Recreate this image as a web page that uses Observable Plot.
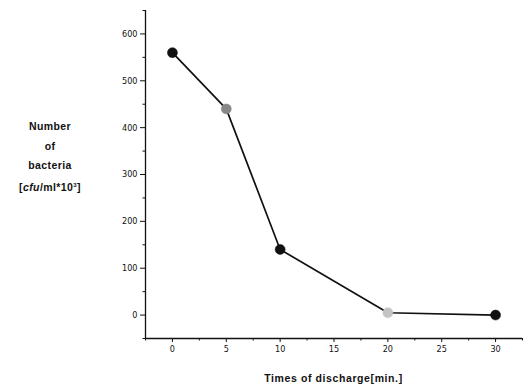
<!DOCTYPE html>
<html><head><meta charset="utf-8">
<script src="https://cdn.jsdelivr.net/npm/d3@7"></script>
<script src="https://cdn.jsdelivr.net/npm/@observablehq/plot@0.6"></script>
<style>
body{margin:0;background:#fff;}
#wrap{position:relative;width:531px;height:389px;}
#ylab{position:absolute;left:0;top:117px;width:100px;text-align:center;font:bold 10.5px "Liberation Sans","DejaVu Sans",sans-serif;line-height:19.5px;letter-spacing:0.4px;color:#111;}
#xlab{position:absolute;left:145px;width:377px;top:372px;text-align:center;font:bold 10.5px "Liberation Sans","DejaVu Sans",sans-serif;letter-spacing:0.6px;color:#111;}
</style></head><body>
<div id="wrap"><div id="ylab">Number<br>of<br>bacteria<br>[<i>cfu</i>/ml*10<sup style="font-size:6px;vertical-align:4px">3</sup>]</div><div id="xlab">Times of discharge[min.]</div></div>
<script>
const times = [0, 5, 10, 20, 30];
const bacteria = [560, 440, 140, 5, 0];
const dotColors = ["#111", "#888", "#111", "#c4c4c4", "#111"];
const xMajor = [0, 5, 10, 15, 20, 25, 30];
const xMinor = [-2.5, 2.5, 7.5, 12.5, 17.5, 22.5, 27.5, 32.5];
const yMajor = [0, 100, 200, 300, 400, 500, 600];
const yMinor = [-50, 50, 150, 250, 350, 450, 550, 650];
const xDomain = [-2.5, 32.5];
const yDomain = [-50, 650];

const data = times.map((t, i) => ({t, n: bacteria[i], c: dotColors[i]}));
const tickFont = {fontFamily: '"Liberation Sans Narrow","DejaVu Sans Condensed",sans-serif', fontSize: 9};

const chart = Plot.plot({
  width: 531, height: 389,
  marginLeft: 145, marginRight: 9, marginTop: 10, marginBottom: 51,
  style: {background: "white", color: "#111", ...tickFont},
  x: {domain: xDomain, axis: null},
  y: {domain: yDomain, axis: null},
  marks: [
    Plot.ruleX([xDomain[0]], {stroke: "#111", strokeWidth: 1.3}),
    Plot.ruleY([yDomain[0]], {stroke: "#111", strokeWidth: 1.3}),
    Plot.axisX(xMajor, {anchor: "bottom", label: null, tickSize: 4, tickPadding: 3, tickFormat: d => String(d), stroke: "#111", fill: "#111"}),
    Plot.axisX(xMinor, {anchor: "bottom", label: null, tickSize: 2.5, tickFormat: () => "", stroke: "#111"}),
    Plot.axisY(yMajor, {anchor: "left", label: null, tickSize: 5, tickPadding: 3, tickFormat: d => String(d), stroke: "#111", fill: "#111"}),
    Plot.axisY(yMinor, {anchor: "left", label: null, tickSize: 2.5, tickFormat: () => "", stroke: "#111"}),
    Plot.line(data, {x: "t", y: "n", stroke: "#111", strokeWidth: 1.7}),
    Plot.dot(data, {x: "t", y: "n", r: 5, fill: "c", stroke: "c", strokeWidth: 0.5})
  ]
});
document.getElementById("wrap").prepend(chart);
chart.style.position = "absolute"; chart.style.left = "0"; chart.style.top = "0";
</script>
</body></html>
